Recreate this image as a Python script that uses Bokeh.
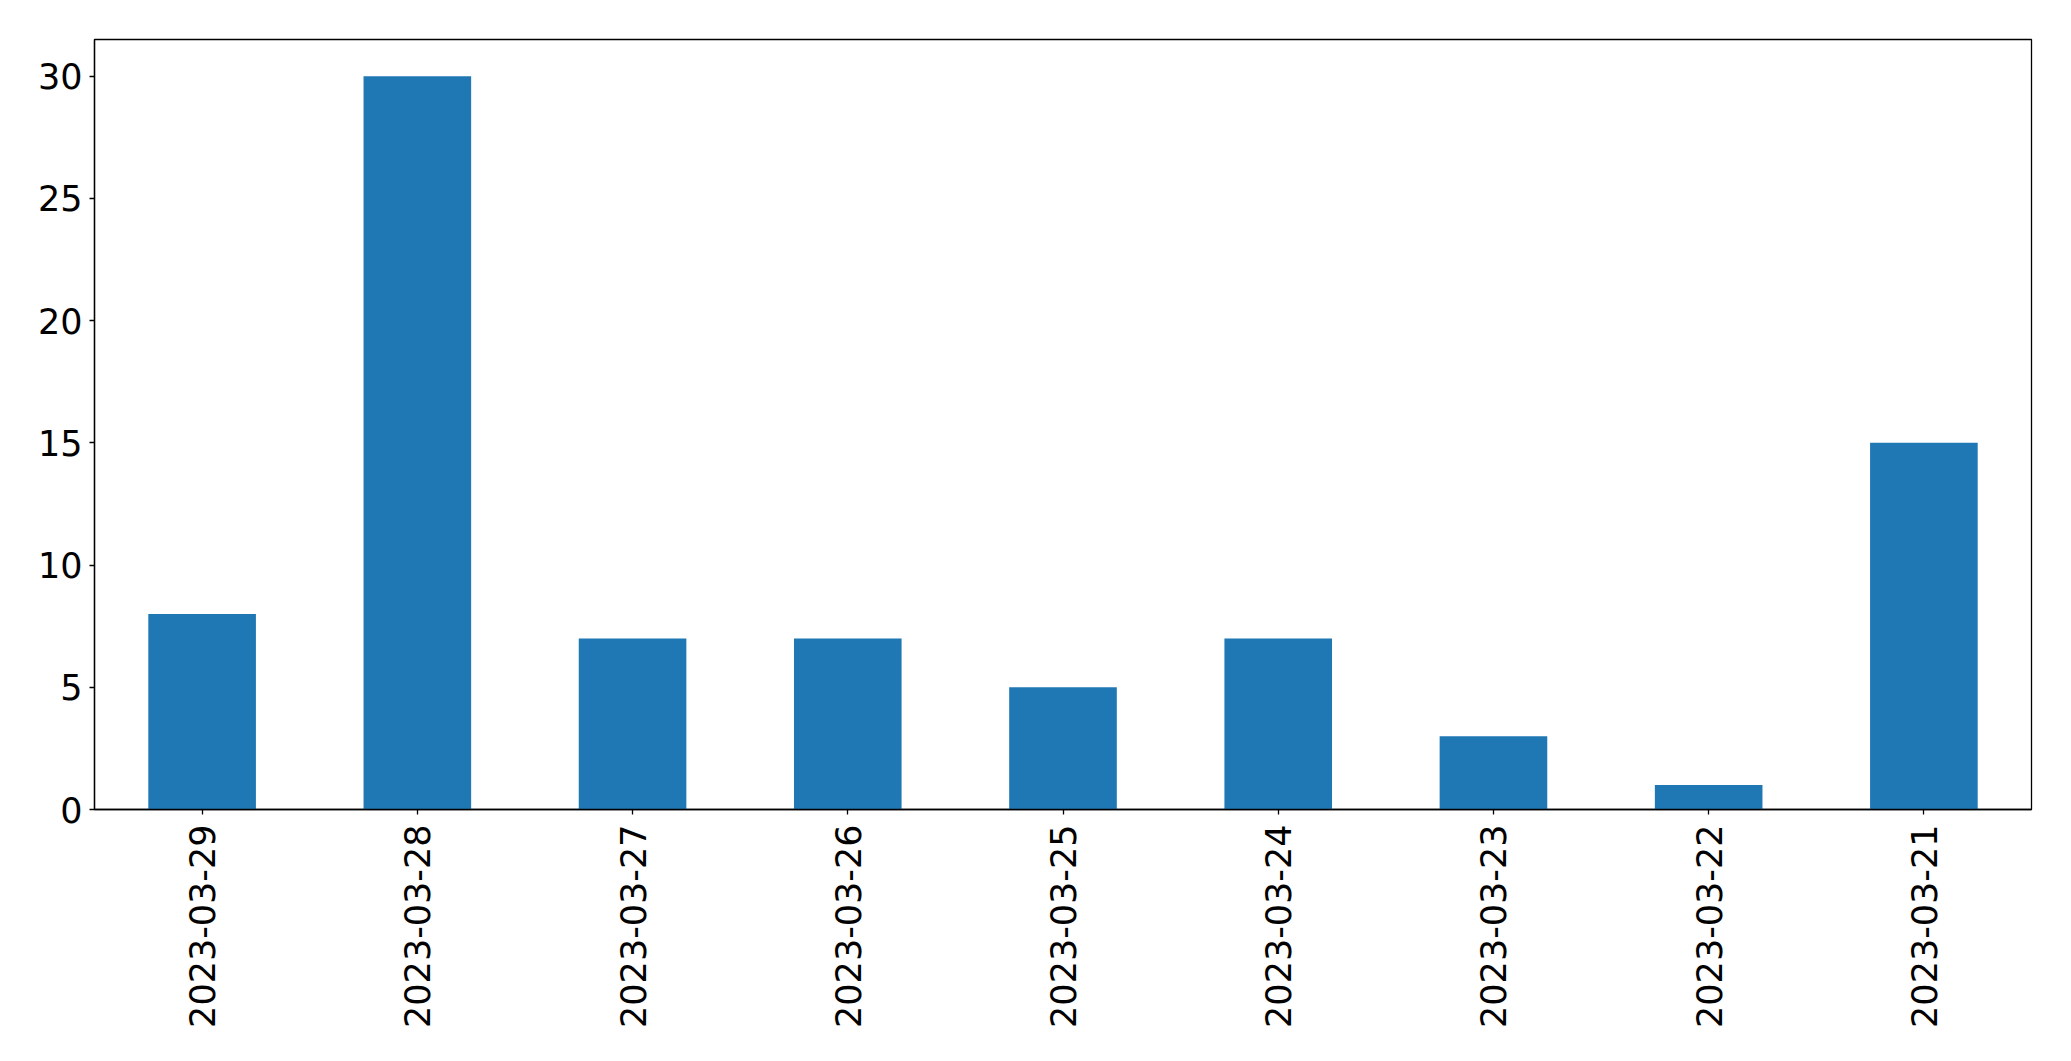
import math
from bokeh.plotting import figure
from bokeh.models import FactorRange, Range1d, FixedTicker
from bokeh.embed import file_html
from bokeh.resources import INLINE

dates = ["2023-03-29", "2023-03-28", "2023-03-27", "2023-03-26", "2023-03-25",
         "2023-03-24", "2023-03-23", "2023-03-22", "2023-03-21"]
counts = [8, 30, 7, 7, 5, 7, 3, 1, 15]
y_ticks = [0, 5, 10, 15, 20, 25, 30]

p = figure(x_range=FactorRange(*dates), y_range=Range1d(0, 31.5),
           frame_width=1937, frame_height=770,
           min_border_left=94, min_border_top=39, min_border_right=30, min_border_bottom=228,
           output_backend="svg", toolbar_location=None)

p.vbar(x=dates, top=counts, width=0.5, fill_color="#1f77b4", line_color=None)

p.xgrid.visible = False
p.ygrid.visible = False
p.outline_line_color = "black"
p.outline_line_width = 1.3
p.outline_line_alpha = 1

for ax in (p.xaxis[0], p.yaxis[0]):
    ax.axis_line_color = "black"
    ax.axis_line_width = 1.3
    ax.major_tick_line_color = "black"
    ax.major_tick_line_width = 1.3
    ax.major_tick_out = 5
    ax.major_tick_in = 0
    ax.minor_tick_line_color = None
    ax.major_label_text_font = "DejaVu Sans"
    ax.major_label_text_font_size = "35px"
    ax.major_label_text_color = "black"

p.yaxis[0].ticker = FixedTicker(ticks=y_ticks)
p.yaxis[0].major_label_standoff = 7
p.xaxis[0].major_label_standoff = 10
p.xaxis[0].major_label_orientation = math.pi / 2

open("out.html", "w").write(file_html(p, INLINE))
